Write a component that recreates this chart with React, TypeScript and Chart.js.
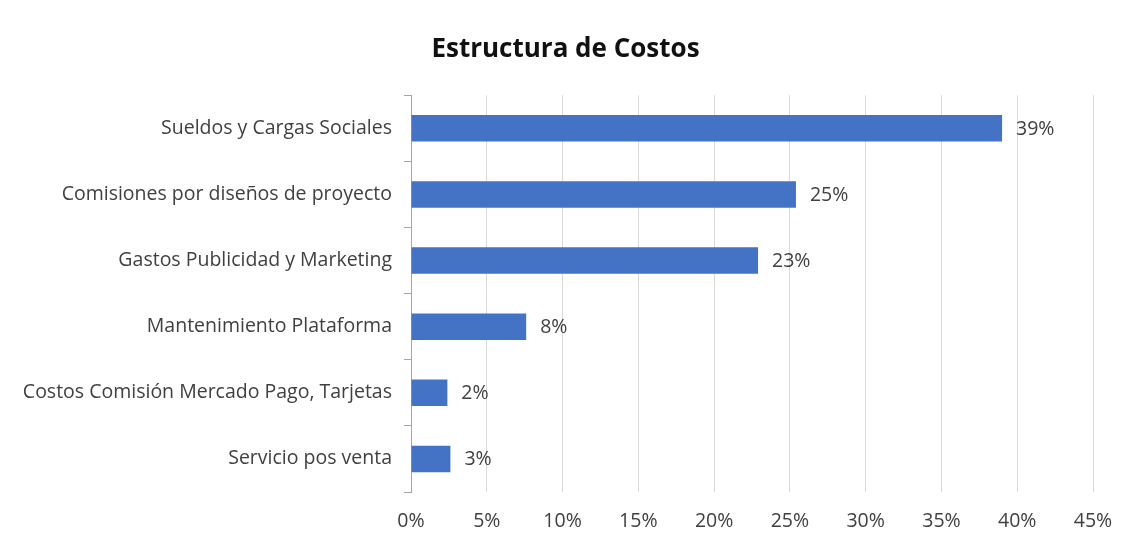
import React, { useEffect, useRef } from "react";
import { Chart, registerables } from "chart.js";

Chart.register(...registerables);

const titleText = "Estructura de Costos";
const categories = [
  "Sueldos y Cargas Sociales",
  "Comisiones por diseños de proyecto",
  "Gastos Publicidad y Marketing",
  "Mantenimiento Plataforma",
  "Costos Comisión Mercado Pago, Tarjetas",
  "Servicio pos venta",
];
const values = [39.0, 25.4, 22.9, 7.6, 2.4, 2.6];
const valueLabels = ["39%", "25%", "23%", "8%", "2%", "3%"];
const xMax = 45;
const xStep = 5;

const FONT = "'Open Sans', Lato, sans-serif";
const TEXT = "#404040";
const SIZE = 19.5;

const barLabelPlugin = {
  id: "barLabels",
  afterDatasetsDraw(chart: any) {
    const { ctx } = chart;
    const meta = chart.getDatasetMeta(0);
    ctx.save();
    ctx.font = `${SIZE}px ${FONT}`;
    ctx.fillStyle = TEXT;
    ctx.textAlign = "left";
    ctx.textBaseline = "middle";
    meta.data.forEach((el: any, i: number) => {
      ctx.fillText(valueLabels[i], el.x + 14, el.y + 1);
    });
    ctx.restore();
  },
};

export default function App() {
  const ref = useRef<HTMLCanvasElement | null>(null);
  useEffect(() => {
    if (!ref.current) return;
    const chart = new Chart(ref.current, {
      type: "bar",
      data: {
        labels: categories,
        datasets: [
          {
            data: values,
            backgroundColor: "#4472C4",
            borderWidth: 0,
            barPercentage: 0.4,
            categoryPercentage: 1,
          },
        ],
      },
      options: {
        indexAxis: "y",
        responsive: false,
        animation: false,
        layout: { padding: { left: 0, right: 0, top: 0, bottom: 8 } },
        plugins: {
          legend: { display: false },
          tooltip: { enabled: false },
          title: {
            display: true,
            text: titleText,
            color: "#111",
            font: { family: FONT, size: 26, weight: "bold" },
            padding: { top: 26, bottom: 30 },
          },
        },
        scales: {
          x: {
            min: 0,
            max: xMax,
            afterFit: (scale: any) => {
              scale.height = 35;
              scale.paddingRight = 30;
              scale.paddingLeft = 0;
            },
            ticks: {
              stepSize: xStep,
              color: TEXT,
              font: { family: FONT, size: SIZE },
              padding: 18,
              callback: (v: any) => `${v}%`,
            },
            grid: { color: "#d9d9d9", drawTicks: false },
            border: { display: false },
          },
          y: {
            afterFit: (scale: any) => {
              scale.width = 403;
              scale.paddingTop = 0;
              scale.paddingBottom = 0;
            },
            ticks: {
              color: TEXT,
              font: { family: FONT, size: SIZE },
              padding: 12,
            },
            grid: {
              display: true,
              drawOnChartArea: false,
              tickLength: 7,
              color: "#a6a6a6",
              offset: true,
            },
            border: { display: true, color: "#a6a6a6" },
          },
        },
      },
      plugins: [barLabelPlugin],
    });
    return () => chart.destroy();
  }, []);
  return (
    <div style={{ width: 1115, height: 527 }}>
      <canvas ref={ref} width={1115} height={527} style={{ display: "block" }} />
    </div>
  );
}
